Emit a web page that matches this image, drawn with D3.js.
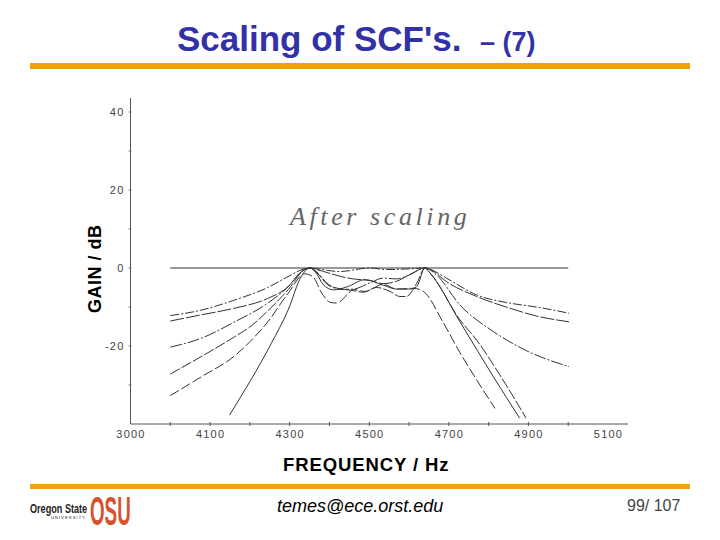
<!DOCTYPE html>
<html>
<head>
<meta charset="utf-8">
<script src="https://d3js.org/d3.v7.min.js"></script>
<style>
body { margin: 0; background: #fff; }
text { font-family: "Liberation Sans", Arial, sans-serif; }
</style>
</head>
<body>
<svg id="chart" width="720" height="540"></svg>
<script>
// tick labels, the first one really is misprinted "3000" in the scan
var xTicks = [3900, 4100, 4300, 4500, 4700, 4900, 5100];
var xTickLabels = ["3000", "4100", "4300", "4500", "4700", "4900", "5100"];
var yTicks = [40, 20, 0, -20];

// gain curves: [freq, dB]
var flat = [[4000, 0], [5000, 0]];
var curveA = [[4000, -12.2], [4078, -10.8], [4162, -8.2], [4245, -5], [4296, -2.2], [4338, -0.2], [4351, 0], [4368, -0.2], [4426, -0.9], [4502, 0], [4543, -0.4], [4602, -0.2], [4640, 0], [4657, -0.5], [4694, -2.6], [4770, -6.9], [4853, -9], [4920, -10], [5002, -11.6]];
var curveB = [[4000, -13.6], [4078, -12], [4162, -10.3], [4245, -7.8], [4296, -4.8], [4329, -1], [4351, 0], [4368, -0.4], [4426, -2.1], [4460, -2.8], [4502, -3.2], [4535, -4], [4569, -3.4], [4602, -1.7], [4640, 0], [4657, -0.6], [4694, -3.5], [4770, -7.3], [4853, -10.3], [4920, -12.3], [5002, -13.8]];
var curveC = [[4000, -20.3], [4078, -18], [4162, -13.8], [4245, -9], [4296, -4.8], [4329, -1], [4351, 0], [4368, -1], [4393, -3.8], [4426, -5.5], [4460, -5.4], [4502, -3.8], [4535, -2.6], [4569, -2.8], [4602, -1.7], [4640, 0], [4669, -1.8], [4728, -9.5], [4812, -16.3], [4895, -21.2], [5002, -25.3]];
var curveD = [[4000, -27.2], [4078, -22.7], [4162, -17.6], [4204, -14.8], [4245, -11], [4296, -5.6], [4338, -0.4], [4351, 0], [4368, -1.2], [4400, -4.6], [4460, -5.8], [4485, -6.2], [4518, -5], [4552, -6], [4577, -7.3], [4593, -7.3], [4619, -4], [4640, 0], [4652, -1.2], [4728, -13.3], [4770, -18.5], [4828, -27.4], [4862, -33], [4894, -38.5]];
var curveE = [[4000, -32.7], [4078, -27.9], [4162, -22.5], [4204, -18.5], [4245, -13.8], [4296, -6.5], [4338, -1.5], [4358, -2.2], [4381, -6.5], [4402, -8.8], [4418, -9], [4445, -6.8], [4460, -5.5], [4489, -6], [4535, -4.2], [4569, -5.4], [4611, -5.2], [4636, -6], [4686, -14], [4728, -21.7], [4770, -28.7], [4816, -36]];
var curveF = [[4149, -37.7], [4254, -19.3], [4296, -10.8], [4329, -2.2], [4351, 0], [4368, -1.5], [4384, -4.2], [4410, -5.6], [4445, -4.8], [4489, -3], [4535, -4.4], [4569, -5.4], [4602, -5.4], [4619, -4.8], [4640, 0], [4652, -1.2], [4728, -13.8], [4812, -27.9], [4878, -38.5]];

var dashes = {
  a: "9,2,2,2",
  b: "14,2",
  c: "12,2,2,2",
  d: "11,2",
  e: "10,3",
  f: null
};

var svg = d3.select("#chart");

var x = d3.scaleLinear().domain([3900, 5100]).range([130.5, 608]);
var y = d3.scaleLinear().domain([-40, 40]).range([424, 112]);

var line = d3.line()
  .x(function(d) { return x(d[0]); })
  .y(function(d) { return y(d[1]); })
  .curve(d3.curveMonotoneX);

// title
var title = svg.append("text")
  .attr("x", 177).attr("y", 51)
  .attr("fill", "#3232a6")
  .style("font-size", "35px")
  .style("font-weight", "bold");
title.append("tspan").text("Scaling of SCF's. ");
title.append("tspan").attr("x", 480).text("– (7)")
  .style("font-size", "27px");

// orange rules
svg.append("rect").attr("x", 30).attr("y", 63).attr("width", 660).attr("height", 6).attr("fill", "#f2a01c");
svg.append("rect").attr("x", 30).attr("y", 484).attr("width", 660).attr("height", 5).attr("fill", "#f2a01c");

// scanned plot frame
var xAxis = d3.axisBottom(x)
  .tickValues(xTicks)
  .tickSize(0)
  .tickPadding(6)
  .tickFormat(function(d, i) { return xTickLabels[i]; });

var gx = svg.append("g")
  .attr("transform", "translate(0," + y(-40) + ")")
  .call(xAxis);
gx.select(".domain").remove();
gx.selectAll("text").attr("fill", "#444").style("font-size", "11px").style("letter-spacing", "1.2px");

var yAxis = d3.axisLeft(y)
  .tickValues(yTicks)
  .tickSize(0)
  .tickPadding(6)
  .tickFormat(function(d) { return d < 0 ? "-" + (-d) : d; });

var gy = svg.append("g")
  .attr("transform", "translate(130.5,0)")
  .call(yAxis);
gy.select(".domain").remove();
gy.selectAll("text").attr("fill", "#444").style("font-size", "11px").style("letter-spacing", "1.2px");

// axis lines, a bit longer than the tick range
svg.append("line")
  .attr("x1", x(3900)).attr("x2", x(3900))
  .attr("y1", 98).attr("y2", y(-40))
  .attr("stroke", "#555");
svg.append("line")
  .attr("x1", x(3900)).attr("x2", 628)
  .attr("y1", y(-40)).attr("y2", y(-40))
  .attr("stroke", "#555");

// small ticks every 100 Hz and every 10 dB
svg.selectAll(".xtick")
  .data(d3.range(4000, 5100, 100))
  .enter().append("line")
  .attr("x1", function(d) { return x(d); })
  .attr("x2", function(d) { return x(d); })
  .attr("y1", y(-40) - 2).attr("y2", y(-40) + 2)
  .attr("stroke", "#555");
svg.selectAll(".ytick")
  .data(d3.range(-30, 50, 10))
  .enter().append("line")
  .attr("x1", x(3900) - 2).attr("x2", x(3900) + 1)
  .attr("y1", function(d) { return y(d); })
  .attr("y2", function(d) { return y(d); })
  .attr("stroke", "#777");

// curves
var curves = [
  { values: curveA, dash: dashes.a },
  { values: curveB, dash: dashes.b },
  { values: curveC, dash: dashes.c },
  { values: curveD, dash: dashes.d },
  { values: curveE, dash: dashes.e },
  { values: curveF, dash: dashes.f }
];

svg.append("path")
  .attr("d", line(flat))
  .attr("fill", "none")
  .attr("stroke", "#777")
  .attr("stroke-width", 1.4);

svg.selectAll(".curve")
  .data(curves)
  .enter().append("path")
  .attr("class", "curve")
  .attr("d", function(d) { return line(d.values); })
  .attr("fill", "none")
  .attr("stroke", "#333")
  .attr("stroke-width", 1)
  .attr("stroke-dasharray", function(d) { return d.dash; });

// handwritten note
svg.append("text")
  .attr("x", 290).attr("y", 225)
  .attr("fill", "#666")
  .style("font-family", "'Liberation Serif', serif")
  .style("font-style", "italic")
  .style("font-size", "26px")
  .style("letter-spacing", "3.6px")
  .text("After scaling");

// axis titles
svg.append("text")
  .attr("transform", "translate(101,313) rotate(-90)")
  .attr("fill", "#000")
  .style("font-size", "18px")
  .style("font-weight", "bold")
  .style("letter-spacing", "0.5px")
  .text("GAIN / dB");
svg.append("text")
  .attr("x", 283).attr("y", 471)
  .attr("fill", "#000")
  .style("font-size", "18.5px")
  .style("font-weight", "bold")
  .style("letter-spacing", "0.9px")
  .text("FREQUENCY / Hz");

// footer
svg.append("text")
  .attr("x", 277).attr("y", 512)
  .attr("fill", "#000")
  .style("font-size", "18px")
  .style("font-style", "italic")
  .text("temes@ece.orst.edu");
svg.append("text")
  .attr("x", 627).attr("y", 511)
  .attr("fill", "#444")
  .style("font-size", "16px")
  .text("99/ 107");

// logo, squeezed with a transform so the boxes stay side by side
svg.append("text")
  .attr("transform", "translate(30,513) scale(0.7,1)")
  .attr("fill", "#222")
  .style("font-size", "13px").style("font-weight", "bold")
  .text("Oregon State");
svg.append("text")
  .attr("x", 51).attr("y", 519)
  .attr("fill", "#222")
  .style("font-size", "4px")
  .style("letter-spacing", "1.1px")
  .text("UNIVERSITY");
svg.append("text")
  .attr("transform", "translate(90,525) scale(0.47,1)")
  .attr("fill", "#d8502c")
  .style("font-size", "40px").style("font-weight", "bold")
  .text("OSU");
</script>
</body>
</html>
